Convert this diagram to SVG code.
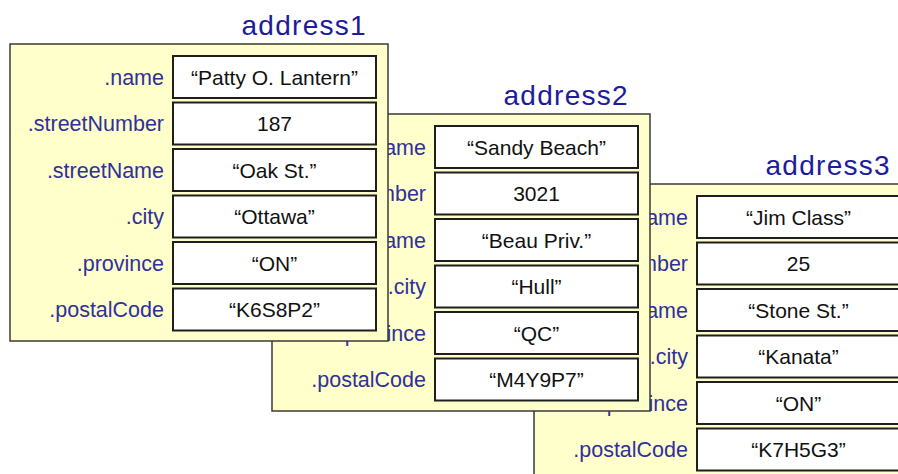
<svg xmlns="http://www.w3.org/2000/svg" width="898" height="474" viewBox="0 0 898 474">
  <style>
    .card { fill: #ffffcc; stroke: #3a3a3a; stroke-width: 1.5; }
    .cell { fill: #ffffff; stroke: #1e1e1e; stroke-width: 2; }
    .title { font-family: "Liberation Sans", Arial, sans-serif; font-size: 28px; fill: #1c1c9c; text-anchor: end; letter-spacing: 1.3px; }
    .field { font-family: "Liberation Sans", Arial, sans-serif; font-size: 21.5px; fill: #30309c; text-anchor: end; }
    .value { font-family: "Liberation Sans", Arial, sans-serif; font-size: 21px; fill: #111111; text-anchor: middle; }
  </style>
  <rect width="898" height="474" fill="#ffffff"/>

  <!-- one record card: yellow panel, field names on the left, value cells on the right -->
  <defs>
    <g id="card-frame">
      <rect class="card" x="10" y="44" width="378" height="297"/>
      <rect class="cell" x="173" y="56" width="203" height="42"/>
      <rect class="cell" x="173" y="102.5" width="203" height="42"/>
      <rect class="cell" x="173" y="149" width="203" height="42"/>
      <rect class="cell" x="173" y="195.5" width="203" height="42"/>
      <rect class="cell" x="173" y="242" width="203" height="42"/>
      <rect class="cell" x="173" y="288.5" width="203" height="42"/>
      <text class="field" x="164" y="84.5">.name</text>
      <text class="field" x="164" y="131">.streetNumber</text>
      <text class="field" x="164" y="177.5">.streetName</text>
      <text class="field" x="164" y="224">.city</text>
      <text class="field" x="164" y="270.5">.province</text>
      <text class="field" x="164" y="317">.postalCode</text>
    </g>
  </defs>

  <g id="connectors"/>

  <!-- drawn back to front so address1 sits on top -->
  <g id="address3" transform="translate(524,140)">
    <text class="title" x="367" y="35">address3</text>
    <use href="#card-frame"/>
    <text class="value" x="274.5" y="84.5">“Jim Class”</text>
    <text class="value" x="274.5" y="131">25</text>
    <text class="value" x="274.5" y="177.5">“Stone St.”</text>
    <text class="value" x="274.5" y="224">“Kanata”</text>
    <text class="value" x="274.5" y="270.5">“ON”</text>
    <text class="value" x="274.5" y="317">“K7H5G3”</text>
  </g>

  <g id="address2" transform="translate(262,70)">
    <text class="title" x="367" y="35">address2</text>
    <use href="#card-frame"/>
    <text class="value" x="274.5" y="84.5">“Sandy Beach”</text>
    <text class="value" x="274.5" y="131">3021</text>
    <text class="value" x="274.5" y="177.5">“Beau Priv.”</text>
    <text class="value" x="274.5" y="224">“Hull”</text>
    <text class="value" x="274.5" y="270.5">“QC”</text>
    <text class="value" x="274.5" y="317">“M4Y9P7”</text>
  </g>

  <g id="address1">
    <text class="title" x="367" y="35">address1</text>
    <use href="#card-frame"/>
    <text class="value" x="274.5" y="84.5">“Patty O. Lantern”</text>
    <text class="value" x="274.5" y="131">187</text>
    <text class="value" x="274.5" y="177.5">“Oak St.”</text>
    <text class="value" x="274.5" y="224">“Ottawa”</text>
    <text class="value" x="274.5" y="270.5">“ON”</text>
    <text class="value" x="274.5" y="317">“K6S8P2”</text>
  </g>
</svg>
